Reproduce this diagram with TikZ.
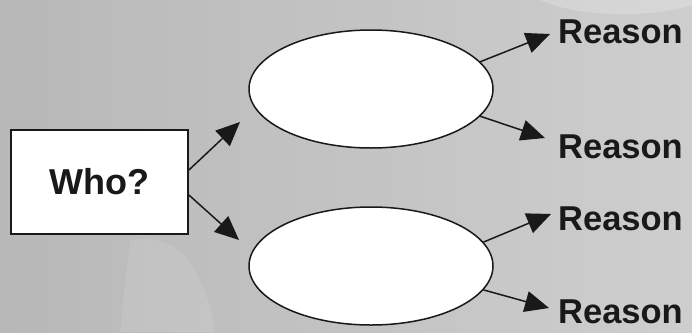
\documentclass[tikz,border=0pt]{standalone}
\usepackage{fontspec}
\setmainfont{Liberation Sans}
\usetikzlibrary{shapes.geometric,arrows.meta}
\definecolor{bgL}{RGB}{184,184,184}
\definecolor{bgR}{RGB}{206,206,206}
\definecolor{ink}{RGB}{25,25,25}
\tikzset{
  whobox/.style={draw=ink,line width=1.8pt,fill=white,minimum width=177pt,minimum height=104pt,inner sep=0pt,font=\fontsize{36}{42}\selectfont\bfseries,text=ink},
  oval/.style={ellipse,draw=ink,line width=1.5pt,fill=white,minimum width=244pt,minimum height=118pt,inner sep=0pt},
  reason/.style={anchor=base west,inner sep=0pt,font=\fontsize{34.5}{40}\selectfont\bfseries,text=ink},
  conn/.style={draw=ink,line width=1.5pt,-{Triangle[length=24pt,width=21pt]}}
}
\begin{document}
\begin{tikzpicture}[x=1pt,y=-1pt]
\useasboundingbox (0,0) rectangle (692,332);
\shade[left color=bgL,right color=bgR] (0,0) rectangle (692,332);
\fill[white,opacity=0.1] (130,240) .. controls (170,235) and (200,250) .. (215,332) -- (120,332) -- cycle;
\fill[white,opacity=0.2] (540,0) .. controls (580,18) and (650,18) .. (692,5) -- (692,0) -- cycle;
\node[whobox] (who) at (99.5,182) {Who?};
\node[oval] (e1) at (371,89) {};
\node[oval] (e2) at (371,266) {};
\node[reason] (r1) at (558,43) {Reason};
\node[reason] (r2) at (558,158) {Reason};
\node[reason] (r3) at (558,230) {Reason};
\node[reason] (r4) at (558,323) {Reason};
\coordinate (t1) at (240,122);
\coordinate (t2) at (239,240);
\coordinate (t3) at (550,34);
\coordinate (t4) at (545,138);
\coordinate (t5) at (551,214);
\coordinate (t6) at (549,308);
\draw[conn] ([yshift=12pt]who.east) -- (t1);
\draw[conn] ([yshift=-13pt]who.east) -- (t2);
\draw[conn] (e1.14) -- (t3);
\draw[conn] (e1.-14) -- (t4);
\draw[conn] (e2.12) -- (t5);
\draw[conn] (e2.-12) -- (t6);
\end{tikzpicture}
\end{document}
